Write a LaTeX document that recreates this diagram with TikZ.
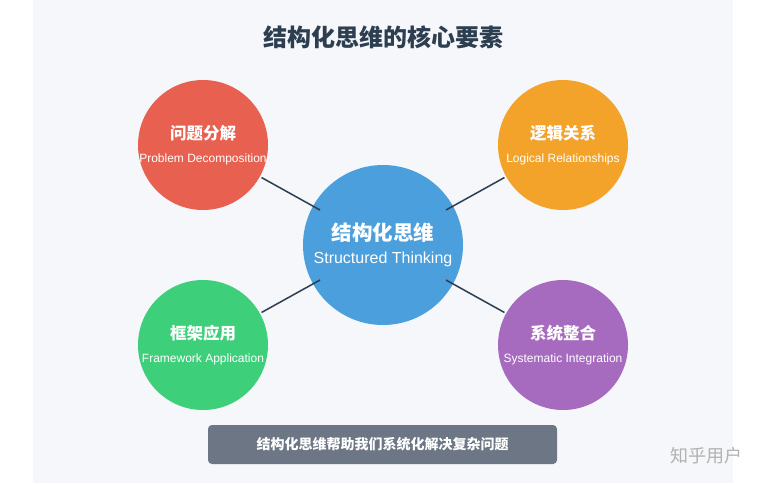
\documentclass[tikz,border=0pt]{standalone}
\usepackage{fontspec}
\setmainfont{Liberation Sans}
\newfontfamily\cjk{Noto Sans CJK SC}
\usetikzlibrary{positioning}
\definecolor{ink}{HTML}{2C3E50}
\definecolor{panel}{HTML}{F5F7FA}
\definecolor{cblue}{HTML}{4A9FDC}
\definecolor{cred}{HTML}{E8604F}
\definecolor{corange}{HTML}{F3A32A}
\definecolor{cgreen}{HTML}{3ECF7A}
\definecolor{cpurple}{HTML}{A66BBF}
\definecolor{cgray}{HTML}{6C7684}
\newcommand{\subtxt}[1]{\makebox[0pt]{\fontsize{12}{14}\selectfont #1}}
\begin{document}
\begin{tikzpicture}[x=1pt,y=-1pt]
        \tikzset{topic/.style = {circle,minimum size=130pt,inner sep=0pt,align=center,text=white}}
        \tikzset{link/.style = {line width=1.5pt,color=ink}}
        \useasboundingbox (0,0) rectangle (776,483);
        \fill[panel] (33,0) rectangle (733,483);

        \node[text=ink,font=\cjk\bfseries\fontsize{24}{28}\selectfont] (title) at (383,37) {结构化思维的核心要素};

        \node[topic,fill=cblue,minimum size=160pt] (core) at (383,245) {{\cjk\bfseries\fontsize{20.5}{24}\selectfont 结构化思维}\\[8pt]{\fontsize{16}{18}\selectfont Structured Thinking}};
        \node[topic,fill=cred] (dec) at (203,145) {{\cjk\bfseries\fontsize{16.5}{19}\selectfont 问题分解}\\[11pt]\subtxt{Problem Decomposition}};
        \node[topic,fill=corange] (rel) at (563,145) {{\cjk\bfseries\fontsize{16.5}{19}\selectfont 逻辑关系}\\[11pt]\subtxt{Logical Relationships}};
        \node[topic,fill=cgreen] (app) at (203,345) {{\cjk\bfseries\fontsize{16.5}{19}\selectfont 框架应用}\\[11pt]\subtxt{Framework Application}};
        \node[topic,fill=cpurple] (int) at (563,345) {{\cjk\bfseries\fontsize{16.5}{19}\selectfont 系统整合}\\[11pt]\subtxt{Systematic Integration}};

        \foreach \n in {dec,rel,app,int} \draw[link,shorten <=72pt,shorten >=67pt] (core.center) -- (\n.center);

        \node[fill=cgray,rounded corners=4pt,minimum width=349pt,minimum height=39pt,text=white,font=\cjk\bfseries\fontsize{14}{16}\selectfont] (note) at (382.5,444.5) {结构化思维帮助我们系统化解决复杂问题};
        \node[text=gray!60,font=\cjk\fontsize{18}{20}\selectfont] (mark) at (706,456) {知乎用户};
\end{tikzpicture}
\end{document}
